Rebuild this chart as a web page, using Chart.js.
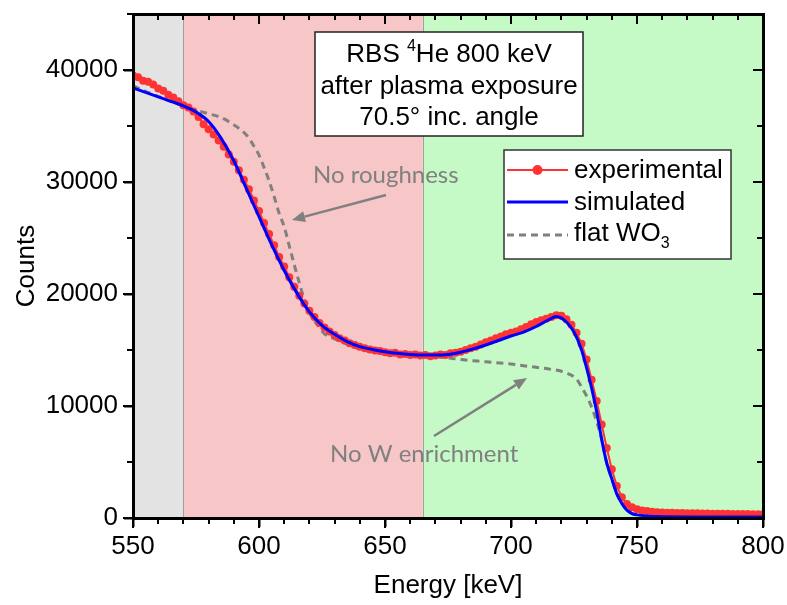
<!DOCTYPE html>
<html><head><meta charset="utf-8">
<script src="https://cdn.jsdelivr.net/npm/chart.js@4"></script>
<style>html,body{margin:0;padding:0;background:#fff;} canvas{display:block;}</style>
</head><body>
<canvas id="c" width="787" height="605"></canvas>
<script>
// ---- data ----
const expEnergy = [550,552,554,556,558,560,562,564,566,568,570,572,574,576,578,580,582,584,586,588,590,592,594,596,598,600,602,604,606,608,610,612,614,616,618,620,622,624,626,628,630,632,634,636,638,640,642,644,646,648,650,652,654,656,658,660,662,664,666,668,670,672,674,676,678,680,682,684,686,688,690,692,694,696,698,700,702,704,706,708,710,712,714,716,718,720,722,724,726,728,730,732,734,736,738,740,742,744,746,748,750,752,754,756,758,760,762,764,766,768,770,772,774,776,778,780,782,784,786,788,790,792,794,796,798,800];
const expCounts = [39500,39350,39050,38950,38700,38350,38150,37800,37550,37200,36850,36650,36300,35800,35150,34700,34250,33700,33150,32450,31800,31050,30200,29350,28350,27400,26350,25350,24350,23300,22450,21500,20650,19850,19150,18500,17950,17400,17000,16650,16350,16050,15850,15600,15450,15300,15150,15050,14950,14900,14800,14700,14750,14600,14650,14550,14600,14500,14550,14450,14500,14600,14550,14700,14750,14850,15000,15150,15300,15500,15700,15850,16050,16200,16400,16550,16650,16850,17050,17300,17500,17650,17800,17950,18100,18050,17750,17250,16550,15550,14150,12350,10450,8350,6250,4350,2850,1850,1250,950,780,680,620,560,520,490,470,460,450,440,430,420,420,400,400,390,380,380,370,360,360,350,350,340,340,330];

const simEnergy = [550,555,560,565,570,575,580,585,590,595,600,605,610,615,620,625,630,635,640,645,650,655,660,665,670,675,680,685,690,695,700,705,710,715,718,720,722,725,728,730,732,734,736,738,740,742,744,746,748,750,755,760,770,780,790,800];
const simCounts = [38400,38000,37600,37200,36800,36250,35400,33900,31900,29400,26900,24400,22100,20100,18400,17200,16400,15750,15300,15050,14850,14700,14600,14550,14550,14600,14800,15100,15450,15850,16250,16600,17100,17700,18000,17850,17500,16600,15000,13400,11600,9500,7000,4900,3500,2150,1300,700,400,280,150,120,100,100,100,100];

const flatEnergy = [550,555,560,565,570,575,580,585,590,595,598,600,602,604,606,608,610,612,614,616,618,620,623,626,630,635,640,645,650,655,660,665,670,675,680,690,700,705,710,715,720,723,726,728,730,732,734,736,738,740,742,744,746,748,750,760,770,780,790,800];
const flatCounts = [38600,38100,37650,37200,36800,36400,36100,35750,35100,34200,33200,32400,31300,30100,28700,27200,26000,24300,22600,21000,19500,18300,17300,16450,16000,15500,15100,14850,14700,14600,14500,14450,14400,14300,14150,13950,13750,13600,13450,13300,13100,12850,12400,11700,10900,9900,8600,7000,4900,3500,2150,1300,700,400,280,120,100,100,100,100];

const xTickLabels = [550,600,650,700,750,800];
const yTickLabels = [0,10000,20000,30000,40000];
const regionBounds = [550,570,665,800];
const regionColors = ['#e3e3e3','#f7c6c6','#c5f9c5'];

// ---- chart ----
const FONT = '"Liberation Sans", Arial, sans-serif';
const ANNO_FONT = 'Lato, "Open Sans", sans-serif';
const RED = '#ff3333', BLUE = '#0000ff', GRAY = '#808080';

function toPts(xs, ys){ return xs.map((v,i)=>({x:v, y:ys[i]})); }

function arrow(ctx, x0, y0, x1, y1){
  const ang = Math.atan2(y1-y0, x1-x0), L = 13, W = 5.5;
  const bx = x1 - L*Math.cos(ang), by = y1 - L*Math.sin(ang);
  ctx.beginPath(); ctx.moveTo(x0,y0); ctx.lineTo(bx,by); ctx.stroke();
  ctx.beginPath();
  ctx.moveTo(x1,y1);
  ctx.lineTo(bx + W*Math.sin(ang), by - W*Math.cos(ang));
  ctx.lineTo(bx - W*Math.sin(ang), by + W*Math.cos(ang));
  ctx.closePath(); ctx.fill();
}

function drawFrame(chart){
  const ctx = chart.ctx, a = chart.chartArea, x = chart.scales.x, y = chart.scales.y;
  const L = Math.round(a.left), R = Math.round(a.right), T = Math.round(a.top), B = Math.round(a.bottom);
  ctx.save();
  ctx.fillStyle = '#000000';
  ctx.fillRect(L-1, T-1, R-L+3, 3);
  ctx.fillRect(L-1, B-1, R-L+3, 3);
  ctx.fillRect(L-1, T-1, 3, B-T+3);
  ctx.fillRect(R-1, T-1, 3, B-T+3);
  for (let v = 550; v <= 800; v += 10){
    const px = Math.round(x.getPixelForValue(v)), len = (v % 50 === 0) ? 10 : 6;
    ctx.fillRect(px-1, B, 2, len);
    ctx.fillRect(px-1, T, 2, len);
  }
  for (let v = 0; v <= 45000; v += 5000){
    const py = Math.round(y.getPixelForValue(v)), len = (v % 10000 === 0) ? 10 : 6;
    ctx.fillRect(L - len, py-1, len, 2);
    ctx.fillRect(R - len, py-1, len, 2);
  }
  ctx.restore();
}

const deco = {
  id:'deco',
  beforeDatasetsDraw(chart){
    const {ctx, chartArea:a, scales:{x}} = chart;
    ctx.save();
    for (let i=0;i<regionColors.length;i++){
      const x0 = x.getPixelForValue(regionBounds[i]), x1 = x.getPixelForValue(regionBounds[i+1]);
      ctx.fillStyle = regionColors[i];
      ctx.fillRect(x0, a.top, x1-x0, a.bottom-a.top);
    }
    ctx.fillStyle = '#a0a0a0';
    [regionBounds[1], regionBounds[2]].forEach(v=>{
      const px = Math.round(x.getPixelForValue(v));
      ctx.fillRect(px, a.top, 1, a.bottom - a.top);
    });
    ctx.restore();
    drawFrame(chart);
  },
  afterDraw(chart){
    const ctx = chart.ctx;
    drawFrame(chart);
    ctx.save();
    ctx.setLineDash([]);
    // annotations
    ctx.fillStyle = GRAY; ctx.strokeStyle = GRAY; ctx.lineWidth = 2.5;
    ctx.font = '24px ' + ANNO_FONT; ctx.textBaseline = 'alphabetic'; ctx.textAlign = 'left';
    ctx.fillText('No roughness', 313, 183);
    ctx.fillText('No W enrichment', 330, 462);
    arrow(ctx, 386, 195, 292, 220);
    arrow(ctx, 434, 436, 527, 378);
    // text box
    ctx.fillStyle = '#fff'; ctx.strokeStyle = '#222'; ctx.lineWidth = 1.5;
    ctx.fillRect(315, 32, 268, 104); ctx.strokeRect(315, 32, 268, 104);
    ctx.fillStyle = '#000';
    const cx = 449;
    ctx.font = '26px ' + FONT;
    const p1 = 'RBS ', p3 = 'He 800 keV';
    const w1 = ctx.measureText(p1).width, w3 = ctx.measureText(p3).width;
    ctx.font = '16px ' + FONT; const w2 = ctx.measureText('4').width;
    let sx = cx - (w1+w2+w3)/2;
    ctx.textAlign = 'left';
    ctx.font = '26px ' + FONT; ctx.fillText(p1, sx, 62);
    ctx.font = '16px ' + FONT; ctx.fillText('4', sx+w1, 51);
    ctx.font = '26px ' + FONT; ctx.fillText(p3, sx+w1+w2, 62);
    ctx.textAlign = 'center';
    ctx.fillText('after plasma exposure', cx, 94);
    ctx.fillText('70.5\u00b0 inc. angle', cx, 125);
    // legend
    ctx.fillStyle = '#fff'; ctx.strokeStyle = '#333'; ctx.lineWidth = 1.5;
    ctx.fillRect(504, 150, 227, 109); ctx.strokeRect(504, 150, 227, 109);
    ctx.textAlign = 'left'; ctx.fillStyle = '#000'; ctx.font = '26px ' + FONT;
    ctx.strokeStyle = RED; ctx.lineWidth = 2;
    ctx.beginPath(); ctx.moveTo(507,170); ctx.lineTo(568,170); ctx.stroke();
    ctx.fillStyle = RED; ctx.beginPath(); ctx.arc(537.5,170,5,0,Math.PI*2); ctx.fill();
    ctx.fillStyle = '#000'; ctx.fillText('experimental', 574, 178);
    ctx.strokeStyle = BLUE; ctx.lineWidth = 3;
    ctx.beginPath(); ctx.moveTo(507,202); ctx.lineTo(568,202); ctx.stroke();
    ctx.fillText('simulated', 574, 210);
    ctx.strokeStyle = GRAY; ctx.lineWidth = 3; ctx.setLineDash([7,5]);
    ctx.beginPath(); ctx.moveTo(507,235); ctx.lineTo(568,235); ctx.stroke();
    ctx.setLineDash([]);
    ctx.fillText('flat WO', 574, 241);
    const wf = ctx.measureText('flat WO').width;
    ctx.font = '16px ' + FONT; ctx.fillText('3', 574+wf, 248);
    ctx.restore();
  }
};

new Chart(document.getElementById('c'), {
  type: 'line',
  data: {
    datasets: [
      { label:'simulated', data: toPts(simEnergy, simCounts), order:0,
        borderColor: BLUE, borderWidth: 3, pointRadius: 0, cubicInterpolationMode:'monotone', fill:false },
      { label:'experimental', data: toPts(expEnergy, expCounts), order:1,
        borderColor: RED, borderWidth: 2, pointRadius: 4, pointBackgroundColor: RED, pointBorderWidth: 0, fill:false },
      { label:'flat WO3', data: toPts(flatEnergy, flatCounts), order:2,
        borderColor: GRAY, borderWidth: 3, borderDash:[7,5], pointRadius: 0, cubicInterpolationMode:'monotone', fill:false }
    ]
  },
  options: {
    responsive: false, animation: false, devicePixelRatio: 1,
    layout: { padding: { left: 0, top: 14, right: 24, bottom: 0 } },
    plugins: { legend: { display:false }, tooltip: { enabled:false } },
    scales: {
      x: {
        type:'linear', min: 550, max: 800,
        grid: { display:true, drawOnChartArea:false, drawTicks:true, tickLength:9, tickWidth:2, tickColor:'#000' },
        border: { display:true, color:'#000', width:2, z:5 },
        afterBuildTicks: (s)=>{ s.ticks = xTickLabels.map(v=>({value:v})); },
        afterFit: (s)=>{ s.height = 87; s.paddingLeft = 0; s.paddingRight = 0; },
        ticks: { padding: 4, maxRotation: 0, autoSkip:false, color:'#000', font:{ family: FONT, size: 26 } },
        title: { display:true, text:'Energy [keV]', color:'#000', font:{ family: FONT, size: 26 }, padding:{ top:0, bottom:4 } }
      },
      y: {
        type:'linear', min: 0, max: 45000,
        grid: { display:true, drawOnChartArea:false, drawTicks:true, tickLength:9, tickWidth:2, tickColor:'#000' },
        border: { display:true, color:'#000', width:2, z:5 },
        afterBuildTicks: (s)=>{ s.ticks = yTickLabels.map(v=>({value:v})); },
        afterFit: (s)=>{ s.width = 133; s.paddingTop = 0; s.paddingBottom = 0; },
        ticks: { padding: 6, autoSkip:false, color:'#000', font:{ family: FONT, size: 26 }, callback:(v)=>String(v) },
        title: { display:true, text:'Counts', color:'#000', font:{ family: FONT, size: 26 }, padding:{ top:11, bottom:0 } }
      }
    }
  },
  plugins: [deco]
});
</script>
</body></html>
